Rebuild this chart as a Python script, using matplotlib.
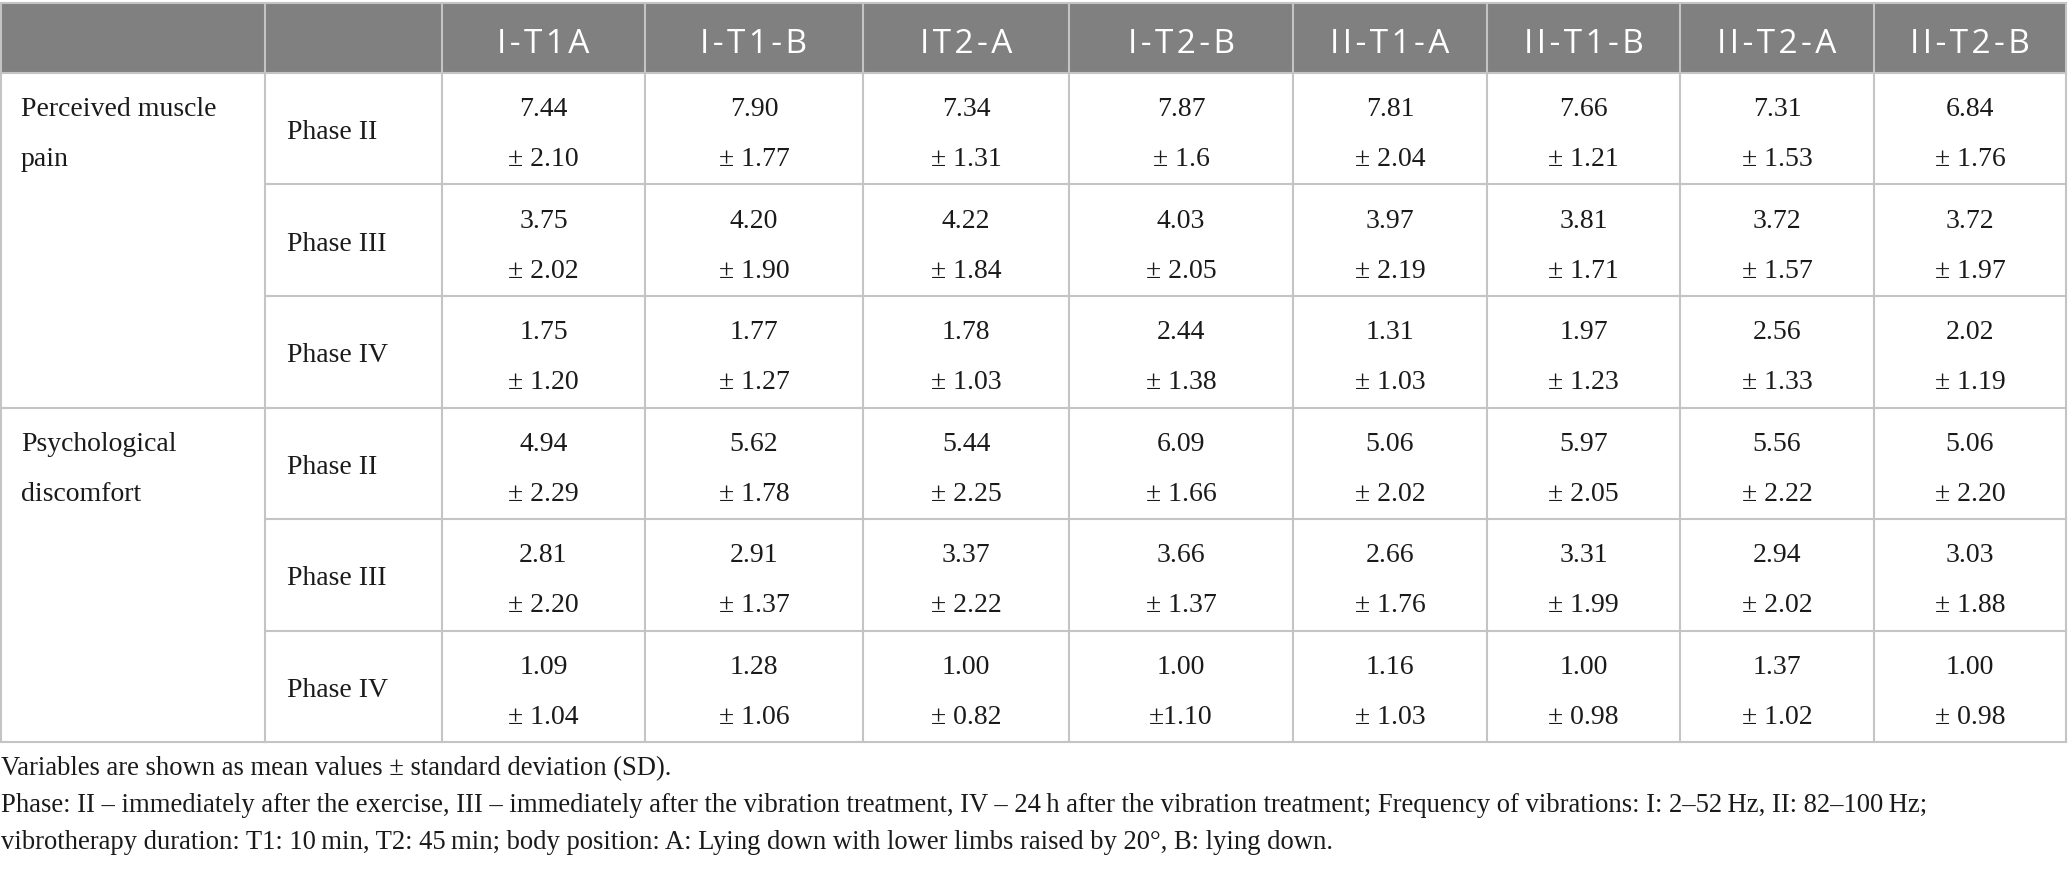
import matplotlib
matplotlib.use('Agg')
import matplotlib.pyplot as plt

columns = ['I-T1A', 'I-T1-B', 'IT2-A', 'I-T2-B', 'II-T1-A', 'II-T1-B', 'II-T2-A', 'II-T2-B']
groups = ['Perceived muscle\npain', 'Psychological\ndiscomfort']
phases = ['Phase II', 'Phase III', 'Phase IV']

# mean values, one list per row (group x phase)
pain_means = [
    ['7.44', '7.90', '7.34', '7.87', '7.81', '7.66', '7.31', '6.84'],
    ['3.75', '4.20', '4.22', '4.03', '3.97', '3.81', '3.72', '3.72'],
    ['1.75', '1.77', '1.78', '2.44', '1.31', '1.97', '2.56', '2.02'],
]
pain_sd = [
    ['± 2.10', '± 1.77', '± 1.31', '± 1.6', '± 2.04', '± 1.21', '± 1.53', '± 1.76'],
    ['± 2.02', '± 1.90', '± 1.84', '± 2.05', '± 2.19', '± 1.71', '± 1.57', '± 1.97'],
    ['± 1.20', '± 1.27', '± 1.03', '± 1.38', '± 1.03', '± 1.23', '± 1.33', '± 1.19'],
]
psych_means = [
    ['4.94', '5.62', '5.44', '6.09', '5.06', '5.97', '5.56', '5.06'],
    ['2.81', '2.91', '3.37', '3.66', '2.66', '3.31', '2.94', '3.03'],
    ['1.09', '1.28', '1.00', '1.00', '1.16', '1.00', '1.37', '1.00'],
]
psych_sd = [
    ['± 2.29', '± 1.78', '± 2.25', '± 1.66', '± 2.02', '± 2.05', '± 2.22', '± 2.20'],
    ['± 2.20', '± 1.37', '± 2.22', '± 1.37', '± 1.76', '± 1.99', '± 2.02', '± 1.88'],
    ['± 1.04', '± 1.06', '± 0.82', '±1.10', '± 1.03', '± 0.98', '± 1.02', '± 0.98'],
]

notes = [
    'Variables are shown as mean values ± standard deviation (SD).',
    'Phase: II \u2013 immediately after the exercise, III \u2013 immediately after the vibration treatment, '
    'IV \u2013 24\u2009h after the vibration treatment; Frequency of vibrations: I: 2\u201352\u2009Hz, II: 82\u2013100\u2009Hz;',
    'vibrotherapy duration: T1: 10\u2009min, T2: 45\u2009min; body position: A: Lying down with lower limbs '
    'raised by 20\u00b0, B: lying down.',
]

# layout in pixels
W, H = 2068, 872
col_x = [1, 265, 442, 645, 863, 1069, 1293, 1487, 1680, 1874, 2066]
head_top, head_bot = 3, 73
row_h = 111.5
line_col = '#c4c4c4'
head_bg = '#7f807f'
serif = ['Liberation Serif', 'DejaVu Serif']
sans = ['Open Sans', 'DejaVu Sans']

fig = plt.figure(figsize=(W / 100, H / 100), dpi=100)
ax = fig.add_axes([0, 0, 1, 1])
ax.set_xlim(0, W)
ax.set_ylim(H, 0)
ax.axis('off')

# header
ax.add_patch(plt.Rectangle((col_x[0], head_top), col_x[-1] - col_x[0], head_bot - head_top,
                           facecolor=head_bg, edgecolor='none'))
for i, name in enumerate(columns):
    cx = (col_x[i + 2] + col_x[i + 3]) / 2
    ax.text(cx, head_bot - 20, '\u200a'.join(name), color='white', fontsize=24,
            family=sans, ha='center', va='baseline')

all_means = [pain_means, psych_means]
all_sd = [pain_sd, psych_sd]
n_rows = len(groups) * len(phases)
table_bot = head_bot + n_rows * row_h

for g, label in enumerate(groups):
    g_top = head_bot + g * len(phases) * row_h
    for k, line in enumerate(label.split('\n')):
        ax.text(col_x[0] + 20, g_top + 43 + k * 50, line, fontsize=20, family=serif,
                ha='left', va='baseline', color='#1a1a1a')
    for p, ph in enumerate(phases):
        r_top = g_top + p * row_h
        ax.text(col_x[1] + 22, r_top + 66, ph, fontsize=20, family=serif,
                ha='left', va='baseline', color='#1a1a1a')
        for c in range(len(columns)):
            cx = (col_x[c + 2] + col_x[c + 3]) / 2
            ax.text(cx, r_top + 43, all_means[g][p][c], fontsize=20, family=serif,
                    ha='center', va='baseline', color='#1a1a1a')
            ax.text(cx, r_top + 93, all_sd[g][p][c], fontsize=20, family=serif,
                    ha='center', va='baseline', color='#1a1a1a')
        # row separator across phase and data columns
        ax.plot([col_x[1], col_x[-1]], [r_top + row_h] * 2, color=line_col, lw=1.5)
    ax.plot([col_x[0], col_x[1]], [g_top + len(phases) * row_h] * 2, color=line_col, lw=1.5)

# borders and vertical lines
ax.plot([col_x[0], col_x[-1]], [head_top] * 2, color=line_col, lw=1.5)
ax.plot([col_x[0], col_x[-1]], [head_bot] * 2, color=line_col, lw=1.5)
for x in col_x:
    ax.plot([x, x], [head_top, table_bot], color=line_col, lw=1.5)

for k, note in enumerate(notes):
    ax.text(1, 775 + k * 37, note, fontsize=19.2, family=serif, ha='left', va='baseline',
            color='#1a1a1a')

fig.savefig('out.png', dpi=100)
